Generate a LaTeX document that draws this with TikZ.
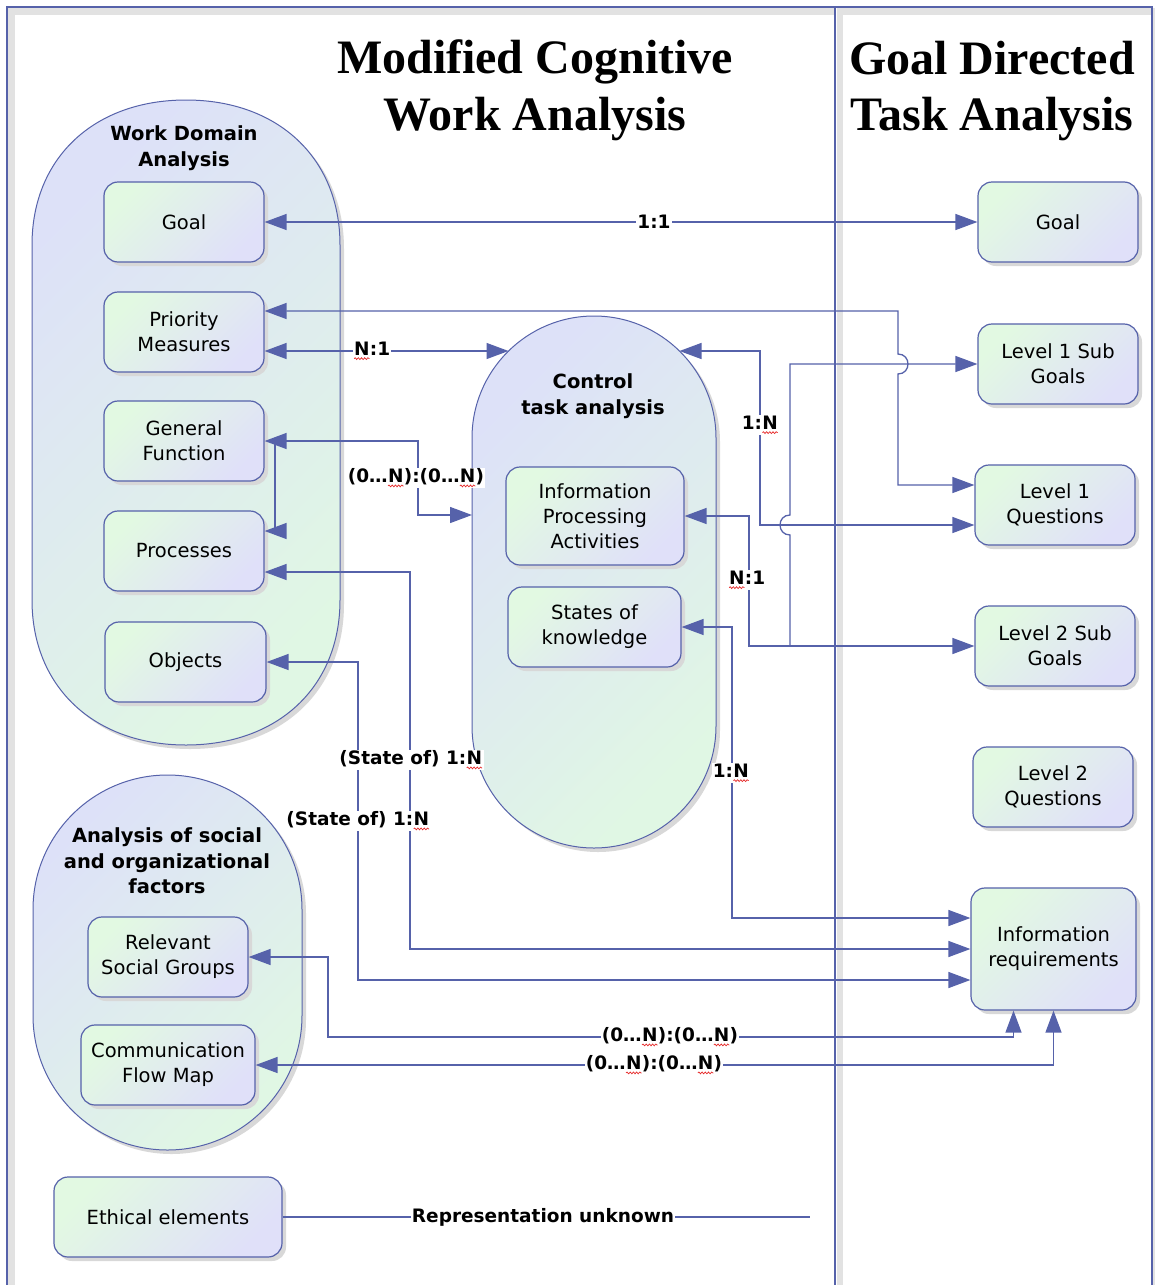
\documentclass[tikz,border=0pt]{standalone}
\usepackage{fontspec}
\setmainfont{DejaVu Sans}
\newfontfamily\serifhead{Liberation Serif}
\usetikzlibrary{arrows.meta,shadows,decorations.pathmorphing}

\definecolor{lineblue}{RGB}{86,98,170}
\definecolor{boxgreen}{RGB}{226,249,226}
\definecolor{boxlav}{RGB}{224,224,249}
\definecolor{contlav}{RGB}{221,225,248}
\definecolor{contgreen}{RGB}{224,247,228}
\definecolor{shadowgray}{RGB}{216,216,216}
\definecolor{bandgray}{RGB}{226,226,226}
\definecolor{spellred}{RGB}{230,40,40}

% a letter with a red wavy underline
\newcommand\wavyN{\tikz[baseline=(wn.base)]{%
  \node[inner sep=0pt,outer sep=0pt,draw=none,fill=none,text=black] (wn) {N};
  \draw[spellred,line width=0.7pt,decorate,
        decoration={snake,amplitude=0.9pt,segment length=3.2pt}]
    ([yshift=-3pt]wn.south west) -- ([yshift=-3pt]wn.south east);}}

\tikzset{
  >={Triangle[length=22pt,width=16pt]},
  conn/.style={draw=lineblue,line width=1.3pt},
  item/.style={draw=lineblue,line width=1.2pt,rounded corners=14pt,
    top color=boxgreen,bottom color=boxlav,shading angle=45,
    drop shadow={shadow xshift=4pt,shadow yshift=-4pt,fill=shadowgray,opacity=1},
    align=center,font=\fontsize{19.5}{25}\selectfont,inner sep=2pt,
    minimum width=160pt,minimum height=80pt},
  group/.style={draw=lineblue,line width=1pt,
    top color=contlav,bottom color=contgreen,shading angle=45,
    drop shadow={shadow xshift=4pt,shadow yshift=-4pt,fill=shadowgray,opacity=1}},
  grouptitle/.style={font=\bfseries\fontsize{19.5}{25.5}\selectfont,align=center},
  lbl/.style={fill=white,inner sep=1pt,font=\bfseries\fontsize{18.5}{22}\selectfont},
  heading/.style={font=\serifhead\bfseries\fontsize{48}{56}\selectfont,anchor=base},
}

\begin{document}
\begin{tikzpicture}[x=1pt,y=-1pt]
\useasboundingbox (0,0) rectangle (1155,1285);
\fill[white] (0,0) rectangle (1155,1285);

% swimlane frame
\fill[bandgray] (8,8) rectangle (834,15);
\fill[bandgray] (8,8) rectangle (15,1285);
\fill[bandgray] (837,8) rectangle (1151,15);
\fill[bandgray] (837,8) rectangle (843,1285);
\fill[bandgray] (1153,8) rectangle (1155,1285);
\draw[lineblue,line width=1.2pt] (7,1285) -- (7,7) -- (1152,7) -- (1152,1285);
\draw[lineblue,line width=2.6pt] (835,7) -- (835,1285);

% lane headings
\node[heading] (h1a) at (535,73) {Modified Cognitive};
\node[heading] (h1b) at (535,130) {Work Analysis};
\node[heading] (h2a) at (992,74) {Goal Directed};
\node[heading] (h2b) at (992,130) {Task Analysis};

% grouping capsules
\path[group] (32,245) .. controls (32,158) and (94,100) .. (186,100)
  .. controls (278,100) and (340,158) .. (340,245) -- (340,600)
  .. controls (340,687) and (278,745) .. (186,745)
  .. controls (94,745) and (32,687) .. (32,600) -- cycle;
\path[group] (472,438) .. controls (472,370.7) and (526.7,316) .. (594,316)
  .. controls (661.3,316) and (716,370.7) .. (716,438) -- (716,726)
  .. controls (716,793.3) and (661.3,848) .. (594,848)
  .. controls (526.7,848) and (472,793.3) .. (472,726) -- cycle;
\path[group] (33,909.5) .. controls (33,835.3) and (93.3,775) .. (167.5,775)
  .. controls (241.7,775) and (302,835.3) .. (302,909.5) -- (302,1015.5)
  .. controls (302,1089.7) and (241.7,1150) .. (167.5,1150)
  .. controls (93.3,1150) and (33,1089.7) .. (33,1015.5) -- cycle;

\node[grouptitle] (wdaT) at (184,148) {Work Domain\\Analysis};
\node[grouptitle] (ctlT) at (593,396) {Control\\task analysis};
\node[grouptitle] (socT) at (167,861) {Analysis of social\\and organizational\\factors};

% contact points on the control capsule
\coordinate (ctlA) at (508.5,351);
\coordinate (ctlB) at (679.5,351);
\coordinate (ctlC) at (472,515);

% work domain analysis
\node[item] (goalL) at (184,222) {Goal};
\node[item] (pm) at (184,332) {Priority\\Measures};
\node[item] (gf) at (184,441) {General\\Function};
\node[item] (proc) at (184,551) {Processes};
\node[item,minimum width=161pt] (obj) at (185.5,662) {Objects};

% control task analysis
\node[item,minimum width=178pt,minimum height=98pt] (ipa) at (595,516) {Information\\Processing\\Activities};
\node[item,minimum width=173pt] (sok) at (594.5,627) {States of\\knowledge};

% social and organizational factors
\node[item] (rsg) at (168,957) {Relevant\\Social Groups};
\node[item,minimum width=174pt] (cfm) at (168,1065) {Communication\\Flow Map};
\node[item,minimum width=228pt] (eth) at (168,1217) {Ethical elements};

% goal directed task analysis
\node[item] (goalR) at (1058,222) {Goal};
\node[item] (l1sg) at (1058,364) {Level 1 Sub\\Goals};
\node[item] (l1q) at (1055,505) {Level 1\\Questions};
\node[item] (l2sg) at (1055,646) {Level 2 Sub\\Goals};
\node[item] (l2q) at (1053,787) {Level 2\\Questions};
\node[item,minimum width=165pt,minimum height=122pt] (ir) at (1053.5,949) {Information\\requirements};

% connectors
\coordinate (fork) at (790,646);
\coordinate (gfFork) at (275,441);
\coordinate (ethEnd) at (810,1217);

\draw[conn,<->] (goalL.east) -- (goalR.west);
\draw[conn,<->] ([yshift=21pt]pm.east) -- (898,311) -- (898,354)
  .. controls (911.3,354) and (911.3,374) .. (898,374)
  -- (898,485) -- ([yshift=20pt]l1q.west);
\draw[conn,<->] ([yshift=-19pt]pm.east) -- (ctlA);
\draw[conn,<->] (ctlB) -- (760,351) -- (760,525) -- ([yshift=-20pt]l1q.west);
\draw[conn,<->] (ipa.east) -- (749,516) |- (l2sg.west);
\draw[conn,->] (fork) -- (790,535)
  .. controls (776.7,535) and (776.7,515) .. (790,515)
  -- (790,364) -- (l1sg.west);
\draw[conn,<->] (gf.east) -- (418,441) -- (418,515) -- (ctlC);
\draw[conn,->] (gfFork) |- ([yshift=20pt]proc.east);
\draw[conn,<->] ([yshift=-21pt]proc.east) -- (410,572) |- (ir.west);
\draw[conn,<->] (obj.east) -- (358,662) |- ([yshift=-31pt]ir.west);
\draw[conn,<->] (sok.east) -- (732,627) |- ([yshift=31pt]ir.west);
\draw[conn,<->] (rsg.east) -- (328,957) -- (328,1037) -| ([xshift=-40pt]ir.south);
\draw[conn,<->] (cfm.east) -| (ir.south);
\draw[conn] (eth.east) -- (ethEnd);

% cardinality labels
\node[lbl] (lab1) at (654,222) {1:1};
\node[lbl] (lab2) at (372,351) {\wavyN:1};
\node[lbl] (lab3) at (416,478) {(0…\wavyN):(0…\wavyN)};
\node[lbl] (lab4) at (760,425) {1:\wavyN};
\node[lbl] (lab5) at (747,580) {\wavyN:1};
\node[lbl] (lab6) at (411,760) {(State of) 1:\wavyN};
\node[lbl] (lab7) at (358,821) {(State of) 1:\wavyN};
\node[lbl] (lab8) at (731,773) {1:\wavyN};
\node[lbl] (lab9) at (670,1037) {(0…\wavyN):(0…\wavyN)};
\node[lbl] (lab10) at (654,1065) {(0…\wavyN):(0…\wavyN)};
\node[lbl] (lab11) at (543,1217) {Representation unknown};
\end{tikzpicture}
\end{document}
